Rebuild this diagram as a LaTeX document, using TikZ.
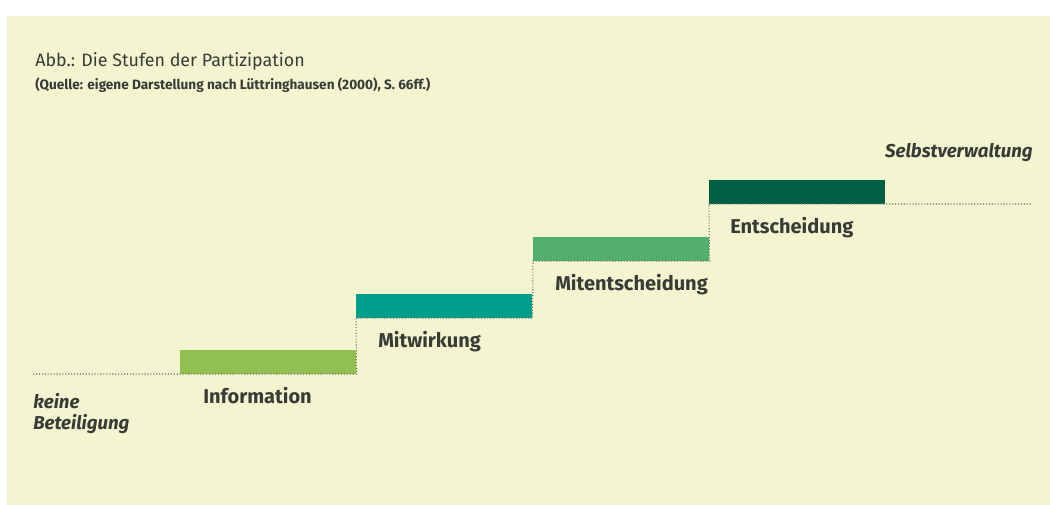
\documentclass[tikz,border=0pt]{standalone}
\usepackage{fontspec}
\setmainfont{Fira Sans}
\usetikzlibrary{positioning}

\definecolor{papier}{HTML}{F2F5D0}
\definecolor{tinte}{HTML}{3A3A36}
\definecolor{punkte}{HTML}{6E6E62}
\definecolor{stufeA}{HTML}{92C050}
\definecolor{stufeB}{HTML}{009E8C}
\definecolor{stufeC}{HTML}{52AF6E}
\definecolor{stufeD}{HTML}{005E45}

\begin{document}
\begin{tikzpicture}[x=0.75pt,y=-0.75pt,
    stufe/.style={anchor=south west,inner sep=0pt,minimum width=132pt,minimum height=18pt},
    stufentext/.style={anchor=base west,inner sep=0pt,text=tinte,font=\bfseries\fontsize{15}{18}\selectfont},
    randtext/.style={inner sep=0pt,text=tinte,font=\bfseries\itshape\fontsize{14}{15.75}\selectfont},
    treppe/.style={punkte,line width=0.8pt,dash pattern=on 0.8pt off 1.4pt}]
    \useasboundingbox (0,0) rectangle (1050,505);
    \fill[papier] (7,16) rectangle (1050,505);

    \node[anchor=base west,inner sep=0pt,text=tinte,font=\fontsize{13.4}{15}\selectfont] (titel) at (35,67) {Abb.: Die Stufen der Partizipation};
    \node[anchor=base west,inner sep=0pt,text=tinte,font=\bfseries\fontsize{10.2}{12}\selectfont] (quelle) at (35,90) {(Quelle: eigene Darstellung nach Lüttringhausen (2000), S. 66ff.)};

    \node[stufe,fill=stufeA] (info) at (180,374) {};
    \node[stufe,fill=stufeB] (mitw) at (356,318) {};
    \node[stufe,fill=stufeC] (mitent) at (533,261) {};
    \node[stufe,fill=stufeD] (entsch) at (709,204) {};

    \coordinate (start) at (33,374);
    \coordinate (ende) at (1032,204);
    \draw[treppe] (start) -- (info.south east) -- (mitw.south west) -- (mitw.south east)
    -- (mitent.south west) -- (mitent.south east) -- (entsch.south west) -- (ende);

    \node[stufentext] (infotext) at (203,404) {Information};
    \node[stufentext] (mitwtext) at (378,348) {Mitwirkung};
    \node[stufentext] (mitenttext) at (555,291) {Mitentscheidung};
    \node[stufentext] (entschtext) at (730,234) {Entscheidung};

    \node[randtext,anchor=north west,align=left] (keine) at (33,393) {keine\\Beteiligung};
    \node[randtext,anchor=base east] (selbst) at (1033,158) {Selbstverwaltung};
  \end{tikzpicture}
\end{document}
